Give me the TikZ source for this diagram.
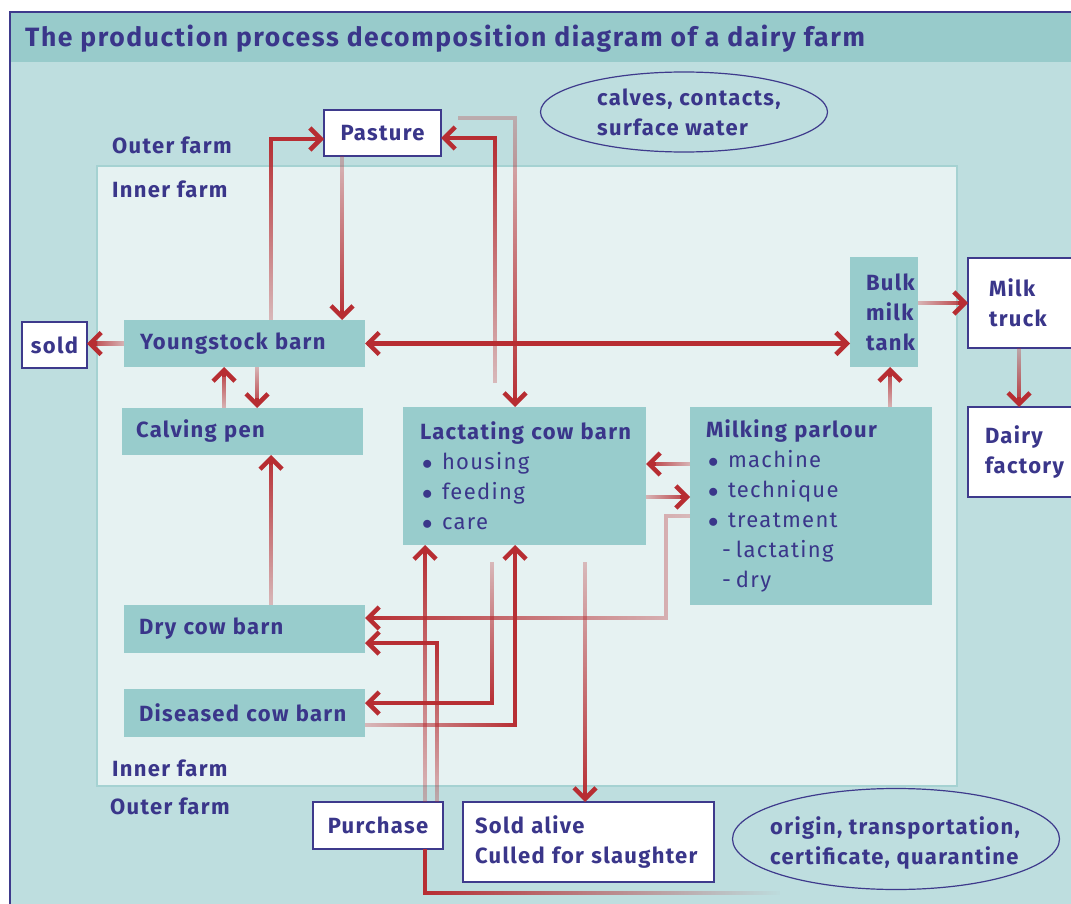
\documentclass[tikz,border=0pt]{standalone}
\usepackage{fontspec}
\setmainfont{Fira Sans}[LetterSpace=6]
\usetikzlibrary{arrows.meta,fadings,calc,shapes.geometric}
\definecolor{txt}{RGB}{58,54,138}
\definecolor{bgmain}{RGB}{190,222,223}
\definecolor{bgtitle}{RGB}{152,203,203}
\definecolor{innerc}{RGB}{230,242,242}
\definecolor{innerb}{RGB}{165,210,210}
\definecolor{nodef}{RGB}{152,204,204}
\definecolor{arr}{RGB}{183,45,50}
\definecolor{framec}{RGB}{62,58,140}
\newcommand\hd{\fontsize{22}{30}\selectfont\bfseries}
\newcommand\rg{\fontsize{22}{30}\selectfont\mdseries}
\newcommand\ttl{\fontsize{26.5}{30}\selectfont\bfseries}
\newcommand\bul{\hspace*{2pt}\makebox[20pt][l]{$\bullet$}}
\newcommand\sub{\hspace*{16pt}\makebox[14pt][l]{-}}
\tikzfading[name=paleT, top color=transparent!72, bottom color=transparent!0]
\tikzfading[name=paleB, top color=transparent!0, bottom color=transparent!72]
\tikzfading[name=paleL, left color=transparent!72, right color=transparent!0]
\tikzfading[name=paleR, left color=transparent!0, right color=transparent!72]
\tikzfading[name=paleM, left color=transparent!0, middle color=transparent!50, right color=transparent!0]
\tikzfading[name=goneR, left color=transparent!0, right color=transparent!100]
\tikzset{
  tbox/.style={fill=nodef, text=txt, font=\hd, anchor=north west, align=left, inner ysep=0pt, outer sep=0pt},
  wbox/.style={fill=white, draw=framec, line width=1.3pt, text=txt, font=\hd, anchor=north west, align=left, inner ysep=0pt, outer sep=0pt},
  ell/.style={ellipse, draw=framec, line width=1.2pt, inner sep=0pt},
  etxt/.style={text=txt, font=\hd, align=left, inner sep=0pt, anchor=west},
  lbl/.style={text=txt, font=\hd, anchor=west, inner sep=0pt},
  body/.style={draw=arr, line width=4.5pt, shorten >=2pt},
  tipc/.style={draw=arr, line width=4.5pt, -{Straight Barb[length=11pt, width=22pt]}},
}
\begin{document}
\begin{tikzpicture}[x=1pt,y=-1pt]
\useasboundingbox (0,0) rectangle (1071,904);
\fill[white] (0,0) rectangle (1071,904);
\fill[bgmain] (10,12) rectangle (1071,904);
\fill[bgtitle] (10,12) rectangle (1071,62);
\draw[framec, line width=1.6pt] (10,904) -- (10,12) -- (1071,12);
\node[anchor=base west, text=txt, font=\ttl, inner sep=0pt] (title) at (25,47) {The production process decomposition diagram of a dairy farm};
\draw[fill=innerc, draw=innerb, line width=1.5pt] (97,166) rectangle (957,786);

% labels
\node[lbl] (of1) at (112,145) {Outer farm};
\node[lbl] (if1) at (112,189) {Inner farm};
\node[lbl] (if2) at (112,768) {Inner farm};
\node[lbl] (of2) at (110,806) {Outer farm};

% ellipses
\node[ell, minimum width=287pt, minimum height=80pt] (e1) at (684,112) {};
\node[etxt] (e1t) at (597,112) {calves, contacts,\\surface water};
\node[ell, minimum width=327pt, minimum height=101pt] (e2) at (896,839) {};
\node[etxt] (e2t) at (770,843) {origin, transportation,\\certificate, quarantine};

% white boxes
\node[wbox, inner xsep=0pt, text width=117pt, align=center, minimum height=46pt] (pasture) at (324,110) {Pasture};
\node[wbox, inner xsep=0pt, text width=65pt, align=center, minimum height=46pt] (sold) at (22,322) {sold};
\node[wbox, inner xsep=21pt, text width=68pt, minimum height=90pt] (truck) at (968,258) {Milk\\truck};
\node[wbox, inner xsep=17pt, text width=76pt, minimum height=90pt] (factory) at (968,407) {Dairy\\factory};
\node[wbox, inner xsep=0pt, text width=130pt, align=center, minimum height=47pt] (purchase) at (313,802) {Purchase};
\node[wbox, inner xsep=12pt, text width=227pt, minimum height=80pt] (soldalive) at (463,802) {\mbox{Sold alive}\\\mbox{Culled for slaughter}};

% teal boxes
\node[tbox, inner xsep=16pt, text width=209pt, minimum height=47pt] (yb) at (124,320) {\mbox{Youngstock barn}};
\node[tbox, inner xsep=14pt, text width=213pt, minimum height=47pt] (cp) at (122,408) {\mbox{Calving pen}};
\node[tbox, inner xsep=17pt, text width=209pt, minimum height=138pt] (lac) at (403,407)
  {\mbox{Lactating cow barn}\\{\rg\bul housing}\\{\rg\bul feeding}\\{\rg\bul care}};
\node[tbox, inner xsep=16pt, text width=210pt, minimum height=198pt] (mp) at (690,407)
  {\mbox{Milking parlour}\\{\rg\bul machine}\\{\rg\bul technique}\\{\rg\bul treatment}\\{\rg\sub lactating}\\{\rg\sub dry}};
\node[tbox, inner xsep=16pt, text width=36pt, minimum height=110pt] (bulk) at (850,257) {Bulk\\milk\\tank};
\node[tbox, inner xsep=15pt, text width=211pt, minimum height=48pt] (dry) at (124,605) {\mbox{Dry cow barn}};
\node[tbox, inner xsep=15pt, text width=211pt, minimum height=48pt] (dis) at (124,689) {\mbox{Diseased cow barn}};

% connector end points
\coordinate (s1) at ($(yb.north west)+(147,0)$);
\coordinate (e1) at ($(pasture.west)+(0,6)$);
\coordinate (s2) at ($(pasture.south west)+(18,0)$);
\coordinate (e2) at ($(yb.north west)+(218,0)$);
\coordinate (s3) at ($(lac.north west)+(92,-24)$);
\coordinate (e3) at ($(pasture.east)+(0,5)$);
\coordinate (s4) at ($(pasture.north east)+(17,8)$);
\coordinate (e4) at ($(lac.north west)+(112,0)$);
\coordinate (s5) at (yb.east);
\coordinate (e5) at (yb.east -| bulk.west);
\coordinate (s6) at (yb.west);
\coordinate (e6) at (yb.west -| sold.east);
\coordinate (s7) at ($(cp.north west)+(102,0)$);
\coordinate (e7) at ($(yb.south west)+(100,0)$);
\coordinate (s8) at ($(yb.south west)+(133,0)$);
\coordinate (e8) at ($(cp.north west)+(135,0)$);
\coordinate (s9) at ($(dry.north west)+(147,0)$);
\coordinate (e9) at ($(cp.south west)+(149,0)$);
\coordinate (s10) at ($(bulk.north east)+(0,46)$);
\coordinate (e10) at (s10 -| truck.west);
\coordinate (s11) at ($(truck.south west)+(51,0)$);
\coordinate (e11) at ($(factory.north west)+(51,0)$);
\coordinate (s12) at ($(mp.north west)+(200,0)$);
\coordinate (e12) at ($(bulk.south west)+(40,0)$);
\coordinate (s13) at ($(mp.north west)+(0,57)$);
\coordinate (e13) at (s13 -| lac.east);
\coordinate (s14) at ($(lac.north east)+(0,90)$);
\coordinate (e14) at (s14 -| mp.west);
\coordinate (s15) at ($(mp.north west)+(0,109)$);
\coordinate (c15) at ($(mp.north west)+(-24,109)$);
\coordinate (e15) at ($(dry.north east)+(0,13)$);
\coordinate (s16) at ($(purchase.north west)+(124,0)$);
\coordinate (e16) at ($(dry.north east)+(0,38)$);
\coordinate (s17) at ($(purchase.north west)+(112,0)$);
\coordinate (e17) at ($(lac.south west)+(22,0)$);
\coordinate (s18) at ($(lac.south west)+(89,17)$);
\coordinate (e18) at ($(dis.north east)+(0,14)$);
\coordinate (s19) at ($(dis.north east)+(0,36)$);
\coordinate (e19) at ($(lac.south west)+(112,0)$);
\coordinate (s20) at ($(lac.south west)+(182,17)$);
\coordinate (e20) at ($(soldalive.north west)+(122,0)$);
\coordinate (s21) at ($(purchase.south west)+(112,0)$);
\coordinate (pend) at (780,893);

% connector bodies (faded)
\draw[body, path fading=paleB] (s1) |- (e1);
\draw[body, path fading=paleT] (s2) -- (e2);
\draw[body, path fading=paleB] (s3) |- (e3);
\draw[body, path fading=paleT] (s4) -| (e4);
\draw[body, shorten <=2pt, path fading=paleM] (s5) -- (e5);
\draw[body, path fading=paleR] (s6) -- (e6);
\draw[body, path fading=paleB] (s7) -- (e7);
\draw[body, path fading=paleT] (s8) -- (e8);
\draw[body, path fading=paleB] (s9) -- (e9);
\draw[body, path fading=paleL] (s10) -- (e10);
\draw[body, path fading=paleT] (s11) -- (e11);
\draw[body, path fading=paleB] (s12) -- (e12);
\draw[body, path fading=paleR] (s13) -- (e13);
\draw[body, path fading=paleL] (s14) -- (e14);
\draw[body, path fading=paleR] (s15) -- (c15) |- (e15);
\draw[body, path fading=paleB] (s16) |- (e16);
\draw[body, path fading=paleB] (s17) -- (e17);
\draw[body, path fading=paleT] (s18) |- (e18);
\draw[body, path fading=paleL] (s19) -| (e19);
\draw[body, path fading=paleT] (s20) -- (e20);
\draw[body, shorten >=0pt, path fading=goneR] (s21) |- (pend);

% arrow heads
\draw[tipc] ($(e1)+(-10,0)$) -- (e1);
\draw[tipc] ($(e2)+(0,-10)$) -- (e2);
\draw[tipc] ($(e3)+(10,0)$) -- (e3);
\draw[tipc] ($(e4)+(0,-10)$) -- (e4);
\draw[tipc] ($(s5)+(10,0)$) -- (s5);
\draw[tipc] ($(e5)+(-10,0)$) -- (e5);
\draw[tipc] ($(e6)+(10,0)$) -- (e6);
\draw[tipc] ($(e7)+(0,10)$) -- (e7);
\draw[tipc] ($(e8)+(0,-10)$) -- (e8);
\draw[tipc] ($(e9)+(0,10)$) -- (e9);
\draw[tipc] ($(e10)+(-10,0)$) -- (e10);
\draw[tipc] ($(e11)+(0,-10)$) -- (e11);
\draw[tipc] ($(e12)+(0,10)$) -- (e12);
\draw[tipc] ($(e13)+(10,0)$) -- (e13);
\draw[tipc] ($(e14)+(-10,0)$) -- (e14);
\draw[tipc] ($(e15)+(10,0)$) -- (e15);
\draw[tipc] ($(e16)+(10,0)$) -- (e16);
\draw[tipc] ($(e17)+(0,10)$) -- (e17);
\draw[tipc] ($(e18)+(10,0)$) -- (e18);
\draw[tipc] ($(e19)+(0,10)$) -- (e19);
\draw[tipc] ($(e20)+(0,-10)$) -- (e20);
\end{tikzpicture}
\end{document}
